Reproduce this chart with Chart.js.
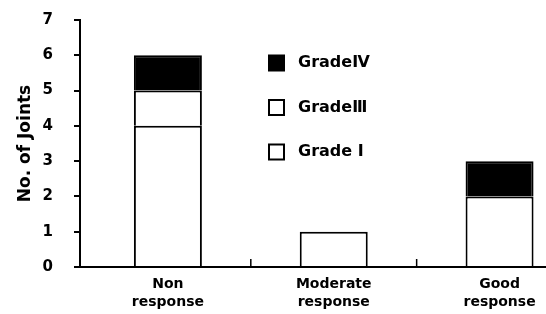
<!DOCTYPE html>
<html>
<head>
<meta charset="utf-8">
<script src="https://cdn.jsdelivr.net/npm/chart.js@4.4.1/dist/chart.umd.min.js"></script>
<style>
html,body{margin:0;padding:0;background:#fff;overflow:hidden;}
#wrap{width:546px;height:314px;position:relative;}
</style>
</head>
<body>
<div id="wrap"><canvas id="c" width="546" height="314"></canvas></div>
<script>
const categories = ['Non response', 'Moderate response', 'Good response'];
const gradeI = [4, 1, 2];
const gradeIII = [1, 0, 0];
const gradeIV = [1, 0, 1];
const legendLabels = ['Grade Ⅰ', 'GradeⅢ', 'GradeⅣ'];
const yTickValues = [0, 1, 2, 3, 4, 5, 6, 7];
const yTitle = 'No. of Joints';

const FONT = '"DejaVu Sans", sans-serif';

const toPoints = arr => arr.map((v, i) => ({x: i, y: v}));

const midTicks = {
  id: 'midTicks',
  afterDraw(chart) {
    const ctx = chart.ctx, xs = chart.scales.x, bottom = chart.chartArea.bottom;
    ctx.save();
    ctx.strokeStyle = '#000';
    ctx.lineWidth = 1.5;
    for (let i = 0; i < categories.length - 1; i++) {
      const px = xs.getPixelForValue(i + 0.5);
      ctx.beginPath();
      ctx.moveTo(px, bottom);
      ctx.lineTo(px, bottom - 8);
      ctx.stroke();
    }
    ctx.restore();
  }
};

const boxLegend = {
  id: 'boxLegend',
  afterDraw(chart) {
    const ctx = chart.ctx, ca = chart.chartArea;
    const ds = chart.data.datasets.slice().reverse();
    ctx.save();
    ctx.font = 'bold 16px ' + FONT;
    ctx.textBaseline = 'middle';
    ctx.textAlign = 'left';
    const x0 = ca.left + 189, y0 = ca.top + 43, gap = 44.5, box = 15;
    ds.forEach((d, i) => {
      const cy = y0 + i * gap;
      ctx.fillStyle = d.backgroundColor;
      ctx.fillRect(x0, cy - box / 2, box, box);
      ctx.strokeStyle = '#000';
      ctx.lineWidth = 2;
      ctx.strokeRect(x0, cy - box / 2, box, box);
      ctx.fillStyle = '#000';
      ctx.fillText(d.label, x0 + 29, cy);
    });
    ctx.restore();
  }
};

new Chart(document.getElementById('c'), {
  type: 'bar',
  data: {
    datasets: [
      {label: legendLabels[0], data: toPoints(gradeI), backgroundColor: '#ffffff'},
      {label: legendLabels[1], data: toPoints(gradeIII), backgroundColor: '#ffffff'},
      {label: legendLabels[2], data: toPoints(gradeIV), backgroundColor: '#000000'}
    ]
  },
  options: {
    responsive: false,
    animation: false,
    devicePixelRatio: 1,
    layout: {padding: {top: 20, right: 0, left: 0, bottom: 0}},
    datasets: {
      bar: {
        borderColor: '#000',
        borderWidth: 2,
        borderSkipped: 'start',
        categoryPercentage: 1,
        barPercentage: 0.41
      }
    },
    plugins: {legend: {display: false}, tooltip: {enabled: false}},
    scales: {
      x: {
        type: 'linear',
        offset: false,
        stacked: true,
        min: -0.53,
        max: 2.28,
        afterBuildTicks(scale) { scale.ticks = categories.map((c, i) => ({value: i})); },
        afterFit(scale) { scale.height = 47; },
        grid: {display: false, drawTicks: false, offset: false},
        border: {display: true, color: '#000', width: 2},
        ticks: {
          color: '#000',
          padding: 8,
          maxRotation: 0,
          autoSkip: false,
          font: {family: FONT, weight: 'bold', size: 14, lineHeight: 1.3},
          callback: (v) => categories[v] ? categories[v].split(' ') : ''
        }
      },
      y: {
        stacked: true,
        min: 0,
        max: 7,
        afterBuildTicks(scale) { scale.ticks = yTickValues.map(v => ({value: v})); },
        afterFit(scale) { scale.width = 80; scale.paddingTop = 0; scale.paddingBottom = 0; },
        grid: {drawOnChartArea: false, drawTicks: true, tickLength: 6, color: '#000', lineWidth: 2},
        border: {display: true, color: '#000', width: 2},
        ticks: {
          color: '#000',
          padding: 21,
          font: {family: FONT, weight: 'bold', size: 15}
        },
        title: {
          display: true,
          text: yTitle,
          color: '#000',
          padding: {top: 15, bottom: 0},
          font: {family: FONT, weight: 'bold', size: 17}
        }
      }
    }
  },
  plugins: [midTicks, boxLegend]
});
</script>
</body>
</html>
